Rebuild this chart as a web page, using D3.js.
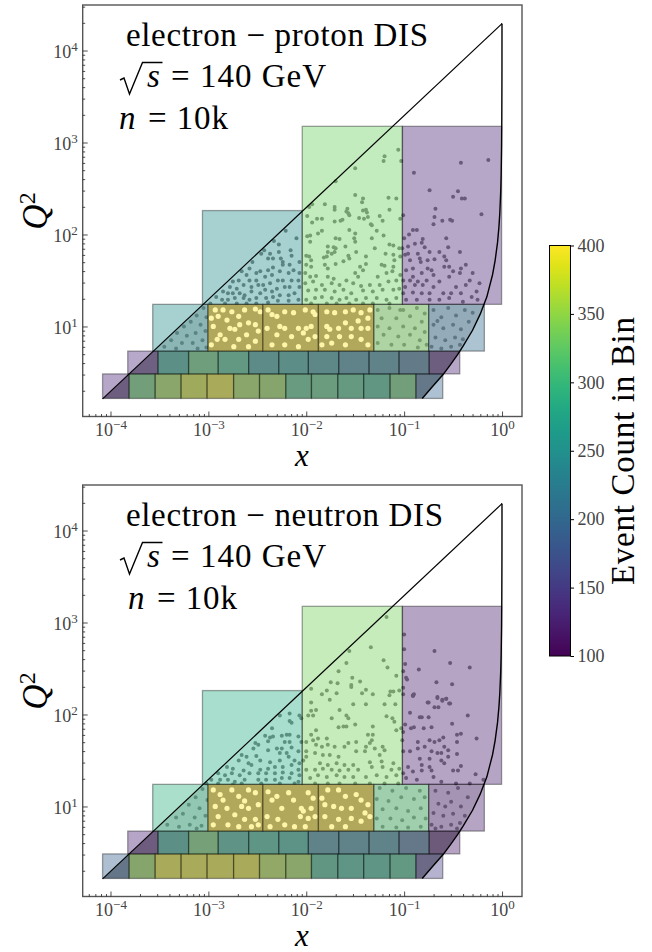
<!DOCTYPE html>
<html>
<head>
<meta charset="utf-8">
<script src="https://cdn.jsdelivr.net/npm/d3@7"></script>
<style>
  html, body { margin: 0; padding: 0; background: #fff; }
  svg { display: block; }
  text { font-family: "Liberation Serif", serif; }
</style>
</head>
<body>
<script>
// bin edges
const q2Edges = [1.65, 3.05, 5.4, 17.4, 182, 1500];
const row1X = [8.3e-5, 1.55e-4, 2.86e-4, 5.26e-4, 9.7e-4, 1.81e-3, 3.33e-3, 6.18e-3, 1.13e-2, 2.1e-2, 3.86e-2, 7.18e-2, 0.132, 0.248];
const row2X = [1.5e-4, 3.06e-4, 6.28e-4, 1.26e-3, 2.58e-3, 5.24e-3, 1.05e-2, 2.15e-2, 4.38e-2, 8.87e-2, 0.18, 0.37];
const row3X = [2.7e-4, 9.9e-4, 3.6e-3, 1.33e-2, 4.9e-2, 0.178, 0.66];
const row4X = [8.7e-4, 9.1e-3, 0.096, 0.99];

// event count per bin, estimated from the colours
const protonRow1 = [130, 320, 350, 375, 385, 350, 345, 305, 310, 300, 290, 320, 195];
const protonRow2 = [135, 270, 315, 295, 255, 265, 245, 230, 225, 205, 130];
const protonRow3 = [245, 400, 400, 400, 335, 205];
const protonRow4 = [245, 330, 130];
const neutronRow1 = [190, 345, 385, 385, 385, 385, 360, 350, 290, 285, 285, 295, 155];
const neutronRow2 = [125, 270, 325, 280, 285, 275, 230, 225, 230, 195, 120];
const neutronRow3 = [290, 400, 400, 400, 315, 122];
const neutronRow4 = [285, 335, 122];

// share of a bin hidden by points too dense to separate
const protonCover = [0.35, 1, 1, 1, 0.3, 0.3];
const neutronCover = [0.3, 1, 1, 1, 0.3, 0.2];

// kinematic limits
const diagX = [8.3e-5, 1];
const diagQ2 = [1.63, 19600];
const edgeX = [0.153, 0.2, 0.25, 0.3, 0.35, 0.4, 0.5, 0.6, 0.7, 0.8, 0.85, 0.9, 0.93, 0.95, 0.97, 0.98, 0.99, 0.995, 0.998, 0.999, 0.9995];
const edgeQ2 = [1.65, 2.3, 3.0, 3.9, 4.9, 6.1, 9.1, 13.7, 21, 36.5, 52, 82, 121, 173, 295, 447, 902, 1815, 4560, 9120, 19600];

// separable events as [log10 x, log10 Q2]
const protonPts = [[-1.06,2.92],[-1.2,2.85],[-1.21,2.8],[-1.03,2.8],[-1.5,2.72],[-1.7,2.58],[-1.5,2.43],[-1.42,2.39],[-1.43,2.35],[-1.16,2.4],[-1.08,2.39],[-1.81,2.33],[-1.71,2.3],[-1.71,2.27],[-1.58,2.28],[-1.59,2.25],[-1.57,2.23],[-1.56,2.21],[-1.39,2.27],[-1.42,2.26],[-1.38,2.24],[-1.37,2.19],[-1.46,2.18],[-1.41,2.17],[-1.15,2.27],[-1.25,2.2],[-1.22,2.15],[-1.04,2.17],[-1.99,2.2],[-1.89,2.17],[-1.84,2.17],[-1.94,2.13],[-1.71,2.14],[-1.65,2.15],[-1.63,2.16],[-1.34,2.11],[-1.97,2.3],[-1.94,2.33],
[-0.14,2.81],[-0.42,2.78],[-0.9,2.67],[-0.74,2.48],[-0.45,2.47],[-0.5,2.41],[-0.41,2.39],[-0.38,2.39],[-0.68,2.28],[-0.21,2.22],[-1.01,2.21],[-0.69,2.19],[-0.53,2.16],[-0.51,2.15],[-0.61,2.15],[-0.7,2.11],
[-2.21,2.04],[-2.1,1.96],[-2.33,1.93],[-2.28,1.89],[-2.16,1.83],[-2.28,1.81],[-2.43,1.83],[-2.46,1.79],[-2.37,1.79],[-2.34,1.74],[-2.39,1.74],[-2.15,1.77],[-2.26,1.74],[-2.24,1.7],[-2.07,1.7],[-2.17,1.67],[-2.55,1.7],[-2.58,1.63],[-2.47,1.6],[-2.39,1.61],[-2.34,1.64],[-2.24,1.67],[-2.66,1.6],[-2.61,1.56],[-2.51,1.58],[-2.75,1.49],[-2.69,1.5],[-2.58,1.5],[-2.51,1.5],[-2.42,1.54],[-2.35,1.56],[-2.27,1.6],[-2.18,1.58],[-2.13,1.61],[-2.07,1.58],[-2.78,1.43],[-2.71,1.41],[-2.64,1.45],[-2.56,1.43],[-2.49,1.45],[-2.44,1.45],[-2.37,1.47],[-2.29,1.5],[-2.24,1.5],[-2.15,1.5],[-2.08,1.5],[-2.85,1.38],[-2.8,1.36],[-2.75,1.36],[-2.68,1.36],[-2.63,1.34],[-2.56,1.38],[-2.47,1.36],[-2.42,1.4],[-2.35,1.38],[-2.3,1.41],[-2.22,1.43],[-2.17,1.43],[-2.07,1.43],[-2.92,1.32],[-2.86,1.29],[-2.8,1.29],[-2.73,1.31],[-2.64,1.31],[-2.58,1.29],[-2.51,1.31],[-2.41,1.31],[-2.34,1.32],[-2.27,1.34],[-2.18,1.34],[-2.12,1.36],[-2.98,1.25],[-2.83,1.25],[-2.71,1.25],[-2.61,1.25],[-2.51,1.25],[-2.39,1.26],[-2.29,1.28],[-2.18,1.28],[-2.08,1.29],
[-1.84,2.04],[-1.88,2.01],[-1.96,1.99],[-1.99,1.98],[-1.96,1.92],[-1.7,1.96],[-1.66,1.95],[-1.56,2.05],[-1.5,2.01],[-1.51,1.96],[-1.5,1.92],[-1.33,1.96],[-1.28,2.04],[-1.21,1.99],[-1.33,2.1],[-1.15,1.89],[-1.11,1.88],[-1.05,1.85],[-1.3,1.85],[-1.6,1.87],[-1.78,1.87],[-1.72,1.86],[-1.7,1.85],[-1.78,1.81],[-1.71,1.81],[-1.74,1.79],[-2,1.77],[-1.97,1.76],[-1.95,1.72],[-1.82,1.75],[-1.79,1.76],[-1.62,1.71],[-1.56,1.74],[-1.57,1.77],[-1.49,1.81],[-1.39,1.76],[-1.19,1.79],[-1.11,1.78],[-1.1,1.72],[-1.04,1.76],[-2,1.67],[-1.95,1.65],[-1.81,1.67],[-1.78,1.63],[-1.7,1.68],[-1.45,1.65],[-1.42,1.61],[-1.39,1.68],[-1.23,1.67],[-1.2,1.66],[-1.11,1.65],[-2.01,1.58],[-1.96,1.54],[-1.9,1.55],[-1.78,1.54],[-1.72,1.52],[-1.59,1.5],[-1.5,1.58],[-1.47,1.54],[-1.27,1.54],[-1.18,1.58],[-1.12,1.6],[-1.04,1.56],[-2.01,1.47],[-1.93,1.49],[-1.84,1.45],[-1.74,1.47],[-1.66,1.45],[-1.52,1.47],[-1.44,1.44],[-1.35,1.45],[-1.25,1.45],[-1.16,1.49],[-1.08,1.5],[-1.98,1.39],[-1.9,1.4],[-1.81,1.4],[-1.71,1.38],[-1.62,1.4],[-1.54,1.36],[-1.42,1.39],[-1.32,1.38],[-1.22,1.4],[-1.11,1.4],[-1.05,1.41],[-2,1.29],[-1.91,1.31],[-1.84,1.32],[-1.74,1.31],[-1.66,1.29],[-1.59,1.31],[-1.49,1.29],[-1.39,1.31],[-1.28,1.31],[-1.18,1.29],[-1.08,1.31],[-1.95,1.25],[-1.79,1.25],[-1.69,1.25],[-1.56,1.25],[-1.42,1.25],[-1.32,1.25],[-1.15,1.25],
[-0.91,2.05],[-0.87,2.05],[-0.95,2],[-1,1.96],[-0.57,1.96],[-0.81,1.95],[-0.82,1.91],[-0.89,1.9],[-0.96,1.87],[-1.02,1.85],[-0.79,1.86],[-0.74,1.81],[-0.64,1.81],[-0.55,1.86],[-0.43,1.81],[-0.86,1.79],[-0.96,1.79],[-0.99,1.78],[-0.94,1.72],[-0.84,1.74],[-0.83,1.7],[-0.76,1.72],[-0.69,1.73],[-0.59,1.76],[-0.57,1.72],[-0.54,1.65],[-0.59,1.65],[-0.37,1.67],[-0.42,1.63],[-0.98,1.61],[-0.91,1.63],[-0.76,1.63],[-0.72,1.61],[-0.5,1.6],[-0.91,1.54],[-0.82,1.58],[-0.7,1.56],[-0.54,1.54],[-0.43,1.58],[-0.3,1.58],[-1.01,1.5],[-0.94,1.5],[-0.86,1.49],[-0.77,1.5],[-0.64,1.49],[-0.33,1.5],[-0.23,1.47],[-0.99,1.43],[-0.89,1.45],[-0.81,1.45],[-0.7,1.43],[-0.47,1.43],[-0.37,1.45],[-0.26,1.38],[-1.01,1.36],[-0.91,1.37],[-0.82,1.36],[-0.74,1.36],[-0.6,1.36],[-0.52,1.36],[-0.42,1.36],[-0.31,1.32],[-0.98,1.29],[-0.87,1.29],[-0.74,1.29],[-0.64,1.29],[-0.54,1.31],[-0.4,1.27],[-0.25,1.29],
[-1.27,1.18],[-1.15,1.2],[-1.01,1.18],[-.87,1.2],[-.79,1.14],[-1.23,1.09],[-1.08,1.09],[-.94,1.11],[-.82,1.05],[-1.27,1],[-1.15,.98],[-1.01,1],[-.89,.98],[-.79,.94],[-1.21,.91],[-1.06,.89],[-.94,.91],[-.84,.85],[-1.27,.82],[-1.13,.8],[-1,.8],[-.86,.77],[-.77,.8],[-1.04,1.18],
[-.7,1.18],[-.62,1.1],[-.55,1.2],[-.47,1.12],[-.38,1.18],[-.3,1.15],[-.7,1.02],[-.6,.98],[-.5,1.02],[-.42,.97],[-.34,1.05],[-.68,.88],[-.58,.85],[-.48,.88],[-.72,.78],[-.62,.76],[-.52,.78],[-.43,.8],[-.4,.86],[-.66,1.06],
[-3.05,1.2],[-3.02,1.1],[-3.12,1.12],[-3.08,1.02],[-3.18,1.05],[-3.25,1],[-3.03,.95],[-3.13,.93],[-3.22,.9],[-3.32,.93],[-3.06,.85],[-3.16,.82],[-3.27,.82],[-3.38,.85],[-3.45,.78],[-3.02,.77],[-3.33,.76],[-3.11,.76]];

const neutronPts = [[-1.18,3.06],[-1.34,2.73],[-1.56,2.69],[-1.21,2.59],[-1.59,2.56],[-1.17,2.51],[-1.67,2.47],[-1.08,2.42],[-1.53,2.4],[-1.45,2.36],[-1.75,2.35],[-1.68,2.34],[-1.54,2.32],[-1.54,2.3],[-1.95,2.28],[-1.79,2.26],[-1.39,2.27],[-1.84,2.22],[-1.69,2.23],[-1.43,2.23],[-1.32,2.22],[-1.14,2.25],[-1.11,2.25],[-1.05,2.26],[-1.15,2.21],[-1.76,2.16],[-1.95,2.13],[-1.52,2.11],[-1.2,2.11],[-1.09,2.11],[-1.39,2.11],
[-1,2.87],[-1,2.71],[-0.69,2.69],[-0.99,2.55],[-0.53,2.56],[-0.33,2.51],[-0.85,2.49],[-1.01,2.47],[-0.98,2.4],[-0.97,2.38],[-0.67,2.35],[-0.51,2.33],[-1.01,2.29],[-1.01,2.22],[-0.9,2.22],[-0.91,2.2],[-0.66,2.19],[-0.57,2.17],[-0.61,2.15],[-0.75,2.13],[-0.53,2.12],
[-2.27,1.99],[-2.17,2.01],[-2.07,1.99],[-2.05,1.96],[-2.17,1.93],[-2.15,1.91],[-2.35,1.85],[-2.42,1.77],[-2.25,1.77],[-2.2,1.78],[-2.17,1.78],[-2.37,1.75],[-2.34,1.76],[-2.08,1.76],[-2.52,1.69],[-2.49,1.67],[-2.39,1.71],[-2.22,1.7],[-2.17,1.7],[-2.05,1.7],[-2.54,1.63],[-2.3,1.63],[-2.25,1.63],[-2.15,1.64],[-2.66,1.56],[-2.61,1.54],[-2.51,1.55],[-2.39,1.61],[-2.27,1.58],[-2.2,1.58],[-2.08,1.6],[-2.69,1.5],[-2.59,1.47],[-2.56,1.45],[-2.47,1.5],[-2.37,1.48],[-2.27,1.5],[-2.18,1.54],[-2.12,1.5],[-2.07,1.47],[-2.81,1.43],[-2.75,1.41],[-2.64,1.39],[-2.47,1.4],[-2.39,1.41],[-2.32,1.43],[-2.24,1.43],[-2.15,1.45],[-2.08,1.4],[-2.9,1.36],[-2.83,1.34],[-2.76,1.36],[-2.68,1.34],[-2.58,1.36],[-2.49,1.36],[-2.41,1.36],[-2.32,1.36],[-2.24,1.37],[-2.15,1.36],[-2.07,1.34],[-2.97,1.29],[-2.88,1.29],[-2.8,1.29],[-2.73,1.27],[-2.63,1.29],[-2.49,1.29],[-2.41,1.29],[-2.32,1.29],[-2.25,1.31],[-2.17,1.31],[-2.08,1.27],[-3.02,1.25],[-2.9,1.25],[-2.75,1.24],[-2.66,1.25],[-2.46,1.25],[-2.27,1.25],[-2.12,1.25],
[-1.9,2.05],[-1.95,2.04],[-1.98,1.99],[-1.93,1.99],[-1.74,1.96],[-1.66,2.05],[-1.59,1.99],[-1.57,1.96],[-1.32,1.87],[-1.18,1.98],[-1.12,1.96],[-1.1,1.92],[-1.08,1.83],[-1.03,1.85],[-1.9,1.83],[-1.95,1.78],[-2,1.7],[-1.93,1.72],[-1.88,1.74],[-1.79,1.74],[-1.5,1.89],[-1.62,1.87],[-1.67,1.86],[-1.59,1.87],[-1.37,1.78],[-1.32,1.78],[-1.33,1.72],[-1.35,1.69],[-1.9,1.67],[-1.84,1.65],[-1.78,1.67],[-1.71,1.65],[-1.57,1.69],[-1.61,1.65],[-1.49,1.7],[-1.39,1.65],[-1.3,1.63],[-1.22,1.65],[-1.2,1.61],[-2,1.6],[-1.91,1.58],[-1.83,1.56],[-1.76,1.56],[-1.67,1.54],[-1.49,1.6],[-1.4,1.6],[-1.25,1.56],[-2.03,1.5],[-2,1.54],[-1.86,1.47],[-1.78,1.45],[-1.69,1.47],[-1.61,1.45],[-1.52,1.45],[-1.35,1.48],[-1.23,1.49],[-1.11,1.47],[-2,1.4],[-1.91,1.4],[-1.83,1.41],[-1.74,1.4],[-1.66,1.39],[-1.57,1.4],[-1.47,1.4],[-1.33,1.43],[-1.22,1.43],[-1.13,1.4],[-1.05,1.41],[-1.96,1.31],[-1.88,1.34],[-1.79,1.32],[-1.69,1.34],[-1.61,1.32],[-1.52,1.32],[-1.39,1.32],[-1.28,1.34],[-1.18,1.32],[-1.08,1.34],[-1.91,1.25],[-1.78,1.25],[-1.66,1.25],[-1.5,1.25],[-1.35,1.25],[-1.2,1.25],[-1.06,1.25],
[-0.91,2.21],[-0.76,2.13],[-0.66,2.18],[-0.61,2.16],[-0.57,2.17],[-0.54,2.12],[-0.69,2.08],[-0.65,2.08],[-0.94,2.02],[-0.84,1.97],[-0.82,1.97],[-0.75,1.97],[-0.35,1.99],[-0.51,1.9],[-0.99,1.89],[-1.01,1.81],[-0.93,1.85],[-0.9,1.86],[-0.8,1.85],[-0.72,1.86],[-0.46,1.78],[-0.42,1.79],[-1.02,1.72],[-0.86,1.7],[-0.74,1.72],[-0.69,1.7],[-0.64,1.72],[-0.6,1.75],[-0.59,1.65],[-0.46,1.7],[-0.26,1.74],[-0.86,1.63],[-0.79,1.65],[-0.72,1.6],[-0.66,1.58],[-0.62,1.58],[-0.55,1.61],[-0.55,1.54],[-0.94,1.6],[-1.01,1.6],[-0.46,1.57],[-0.84,1.52],[-0.74,1.52],[-0.62,1.5],[-0.96,1.43],[-0.82,1.45],[-0.74,1.43],[-0.59,1.47],[-0.42,1.44],[-1.01,1.36],[-0.91,1.38],[-0.82,1.39],[-0.72,1.39],[-0.5,1.39],[-0.45,1.39],[-0.27,1.35],[-0.98,1.31],[-0.87,1.29],[-0.7,1.32],[-0.62,1.27],[-0.47,1.25],[-0.33,1.25],[-0.19,1.29],
[-1.25,1.2],[-1.12,1.17],[-.98,1.2],[-.84,1.17],[-1.28,1.08],[-1.16,1.06],[-1.03,1.1],[-.9,1.08],[-.79,1.1],[-1.22,.97],[-1.08,.98],[-.96,.95],[-.83,.98],[-1.28,.87],[-1.14,.87],[-1.02,.85],[-.9,.88],[-.78,.87],[-1.22,.78],[-1.08,.77],[-.96,.77],[-.83,.78],
[-.68,1.17],[-.55,1.15],[-.45,1.2],[-.35,1.1],[-.65,1.03],[-.52,1.05],[-.42,1],[-.7,.93],[-.6,.9],[-.5,.92],[-.38,.9],[-.72,.8],[-.62,.78],[-.52,.8],[-.43,.82],[-.68,.76],[-.46,.76],[-.58,1],
[-3.06,1.19],[-3.01,1.07],[-3.13,1.1],[-3.09,.98],[-3.2,1.02],[-3.03,.9],[-3.14,.88],[-3.26,.92],[-3.33,.88],[-3.07,.79],[-3.19,.8],[-3.3,.78],[-3.42,.8],[-3.12,.76]];

// holes left open between points in the fullest bins, as [log10 x, log10 Q2]
const protonGaps = [[-2.93,1.18],[-2.85,1.18],[-2.76,1.16],[-2.63,1.18],[-2.52,1.19],[-2.47,1.16],[-2.97,1.09],[-2.9,1.11],[-2.81,1.07],[-2.69,1.11],[-2.68,1.02],[-2.59,1.04],[-2.52,1.02],[-2.95,1],[-2.78,.98],[-2.88,.91],[-2.91,.86],[-2.73,.97],[-2.61,.91],[-2.49,.95],[-2.83,.86],[-2.69,.86],[-2.52,.84],[-2.97,.8],[-2.74,.78],[-2.59,.78],
[-2.39,1.18],[-2.3,1.11],[-2.35,1.13],[-2.22,1.16],[-2.13,1.15],[-2.01,1.18],[-1.93,1.16],[-1.91,1.13],[-2.27,1],[-2.22,.98],[-2.08,.98],[-2,.98],[-1.95,1],[-2.03,.93],[-2.3,.91],[-2.4,.98],[-2.15,.89],[-1.98,.86],[-2.35,.8],[-2.22,.8],[-2.08,.78],[-1.91,.89],
[-1.79,1.16],[-1.71,1.15],[-1.6,1.16],[-1.52,1.18],[-1.44,1.15],[-1.37,1.09],[-1.47,1.06],[-1.35,1.18],[-1.79,1],[-1.76,.97],[-1.67,.98],[-1.6,1.04],[-1.54,.98],[-1.44,.98],[-1.37,.98],[-1.66,.89],[-1.54,.89],[-1.79,.89],[-1.74,.82],[-1.6,.8],[-1.44,.86],[-1.37,.8],[-1.84,.8]];
const neutronGaps = [[-2.95,1.18],[-2.88,1.13],[-2.76,1.18],[-2.69,1.11],[-2.59,1.18],[-2.52,1.15],[-2.49,1.02],[-2.93,1],[-2.81,.98],[-2.66,1],[-2.59,.98],[-2.9,.89],[-2.73,.91],[-2.63,.86],[-2.52,.86],[-2.95,.8],[-2.8,.8],[-2.69,.78],[-2.56,.78],[-2.49,.8],[-2.85,1.07],[-2.63,1.06],
[-2.39,1.16],[-2.3,1.11],[-2.35,1.07],[-2.18,1.15],[-2.13,1.07],[-1.98,1.15],[-1.93,1.09],[-2.25,.98],[-2.05,.98],[-2.03,.95],[-1.95,.98],[-2.4,.89],[-2.29,.86],[-2.06,.89],[-1.98,.87],[-1.91,.89],[-2.22,.8],[-2.37,.78],[-2.12,.78],[-2.01,.78],
[-1.78,1.18],[-1.67,1.18],[-1.6,1.11],[-1.49,1.13],[-1.44,1.07],[-1.37,1.02],[-1.81,1.02],[-1.72,1],[-1.64,.98],[-1.54,.98],[-1.4,.93],[-1.81,.89],[-1.67,.86],[-1.54,.87],[-1.35,.89],[-1.44,.84],[-1.74,.78],[-1.6,.78],[-1.84,1.09]];

const decadesX = [-4, -3, -2, -1, 0];
const decadesY = [1, 2, 3, 4];
const barTicks = [100, 150, 200, 250, 300, 350, 400];

const W = 652, H = 952;
const panelW = [82.7, 522];
const panelH = 411.5;
const ptColor = "#7f7f7f";
const inkColor = "#444";

const color = d3.scaleSequential(d3.interpolateViridis).domain([100, 400]);
const svg = d3.select("body").append("svg").attr("width", W).attr("height", H);
const defs = svg.append("defs");

function rowBins(edges, counts, lo, hi) {
    return counts.map((c, i) => ({x0: edges[i], x1: edges[i + 1], q0: lo, q1: hi, count: c}));
}

function drawPanel(top, id, title, titleX, titleW, nX, rows, cover, pts, gaps) {
    const x = d3.scaleLog().domain([5.2e-5, 1.6]).range(panelW);
    const y = d3.scaleLog().domain([31260, 1.05]).range([top, top + panelH]);
    const g = svg.append("g");

    // kinematic region for the dense underlay
    const kin = [];
    kin.push([x(diagX[0]), y(diagQ2[0])], [x(diagX[1]), y(diagQ2[1])]);
    edgeX.slice().reverse().forEach((v, i) => kin.push([x(v), y(edgeQ2[edgeX.length - 1 - i])]));
    defs.append("clipPath").attr("id", "kin" + id).append("polygon").attr("points", kin.join(" "));

    const bins = [].concat(
        rowBins(row1X, rows[0], q2Edges[0], q2Edges[1]),
        rowBins(row2X, rows[1], q2Edges[1], q2Edges[2]),
        rowBins(row3X, rows[2], q2Edges[2], q2Edges[3]),
        [{x0: row4X[0], x1: row4X[1], q0: q2Edges[3], q1: q2Edges[4], count: rows[3][0]},
         {x0: row4X[1], x1: row4X[2], q0: q2Edges[3], q1: q2Edges[5], count: rows[3][1]},
         {x0: row4X[2], x1: row4X[3], q0: q2Edges[3], q1: q2Edges[5], count: rows[3][2]}]
    );

    // rows 1 and 2 are almost solid with points, row 3 partly
    const under = g.append("g").attr("clip-path", "url(#kin" + id + ")");
    under.append("rect")
        .attr("x", x(row1X[0])).attr("width", x(1) - x(row1X[0]))
        .attr("y", y(q2Edges[2])).attr("height", y(q2Edges[0]) - y(q2Edges[2]))
        .attr("fill", ptColor).attr("opacity", 0.95);
    under.selectAll("rect.c").data(cover).join("rect").attr("class", "c")
        .attr("x", (d, i) => x(row3X[i])).attr("width", (d, i) => x(row3X[i + 1]) - x(row3X[i]))
        .attr("y", y(q2Edges[3])).attr("height", y(q2Edges[2]) - y(q2Edges[3]))
        .attr("fill", ptColor).attr("opacity", d => d);
    under.selectAll("circle").data(gaps).join("circle")
        .attr("cx", d => x(Math.pow(10, d[0])))
        .attr("cy", d => y(Math.pow(10, d[1])))
        .attr("r", 2.6).attr("fill", "#fff");

    g.append("g").selectAll("circle").data(pts).join("circle")
        .attr("cx", d => x(Math.pow(10, d[0])))
        .attr("cy", d => y(Math.pow(10, d[1])))
        .attr("r", 2).attr("fill", ptColor);

    g.append("g").selectAll("rect").data(bins).join("rect")
        .attr("x", d => x(d.x0)).attr("width", d => x(d.x1) - x(d.x0))
        .attr("y", d => y(d.q1)).attr("height", d => y(d.q0) - y(d.q1))
        .attr("fill", d => color(d.count)).attr("fill-opacity", 0.4)
        .attr("stroke", "#000").attr("stroke-opacity", 0.36).attr("stroke-width", 1.3);

    const line = d3.line().x(d => x(d[0])).y(d => y(d[1]));
    g.append("path").attr("d", line(d3.zip(diagX, diagQ2)))
        .attr("fill", "none").attr("stroke", "#000").attr("stroke-width", 1.2);
    g.append("path").attr("d", line(d3.zip(edgeX, edgeQ2).concat([[1, 19600]])))
        .attr("fill", "none").attr("stroke", "#000").attr("stroke-width", 1.4);

    // frame
    g.append("rect").attr("x", panelW[0]).attr("y", top)
        .attr("width", panelW[1] - panelW[0]).attr("height", panelH)
        .attr("fill", "none").attr("stroke", "#555").attr("stroke-width", 1.4);

    // axes
    const minor = (dec, lo, hi) => dec.flatMap(d => d3.range(2, 10).map(m => m * Math.pow(10, d))).filter(v => v > lo && v < hi);
    const xMinor = minor([-5, -4, -3, -2, -1, 0], 5.2e-5, 1.6);
    const yMinor = minor([0, 1, 2, 3, 4], 1.05, 31260);

    const xa = g.append("g").attr("transform", "translate(0," + (top + panelH) + ")");
    xa.append("g").call(d3.axisBottom(x).tickValues(xMinor).tickSize(-2.5).tickFormat(""));
    const xMaj = xa.append("g").call(d3.axisBottom(x).tickValues(decadesX.map(d => Math.pow(10, d))).tickSize(-5).tickFormat(""));
    const ya = g.append("g").attr("transform", "translate(" + panelW[0] + ",0)");
    ya.append("g").call(d3.axisLeft(y).tickValues(yMinor).tickSize(-2.5).tickFormat(""));
    const yMaj = ya.append("g").call(d3.axisLeft(y).tickValues(decadesY.map(d => Math.pow(10, d))).tickSize(-5).tickFormat(""));
    g.selectAll(".domain").remove();
    g.selectAll(".tick line").attr("stroke", "#222").attr("stroke-width", 0.8);
    g.selectAll(".tick text").remove();

    xMaj.selectAll(".tick").each(function (d, i) {
        const t = d3.select(this).append("text").attr("y", 19).attr("fill", inkColor)
            .attr("text-anchor", "middle").attr("font-size", 18);
        t.append("tspan").text("10");
        t.append("tspan").attr("dy", -7).attr("font-size", 13).text(decadesX[i] < 0 ? "\u2212" + (-decadesX[i]) : decadesX[i]);
    });
    yMaj.selectAll(".tick").each(function (d, i) {
        const t = d3.select(this).append("text").attr("x", -5).attr("y", 7).attr("fill", inkColor)
            .attr("text-anchor", "end").attr("font-size", 18);
        t.append("tspan").text("10");
        t.append("tspan").attr("dy", -7).attr("font-size", 13).text(decadesY[i]);
    });

    // axis titles
    g.append("text").attr("x", 302).attr("y", top + 461).attr("text-anchor", "middle")
        .attr("font-size", 31).attr("font-style", "italic").text("x");
    const qt = g.append("text").attr("transform", "translate(47," + (top + 206) + ") rotate(-90)")
        .attr("text-anchor", "middle").attr("font-size", 35);
    qt.append("tspan").attr("font-style", "italic").text("Q");
    qt.append("tspan").attr("dy", -12).attr("font-size", 24).text("2");

    // annotations
    g.append("text").attr("x", titleX).attr("y", top + 41).attr("font-size", 33)
        .attr("textLength", titleW).attr("lengthAdjust", "spacing").text(title);
    g.append("path").attr("d", "M120," + (top + 75) + "l4,-2l5.5,16l13,-31.5h20")
        .attr("fill", "none").attr("stroke", "#000").attr("stroke-width", 1.4);
    g.append("text").attr("x", 147).attr("y", top + 82).attr("font-size", 33)
        .attr("font-style", "italic").text("s");
    g.append("text").attr("x", 171).attr("y", top + 82).attr("font-size", 33)
        .attr("textLength", 155).attr("lengthAdjust", "spacing").text("= 140 GeV");
    g.append("text").attr("x", nX).attr("y", top + 124).attr("font-size", 33)
        .attr("font-style", "italic").text("n");
    g.append("text").attr("x", nX + 29).attr("y", top + 124).attr("font-size", 33)
        .attr("textLength", 80).attr("lengthAdjust", "spacing").text("= 10k");
}

drawPanel(5, "p", "electron \u2212 proton DIS", 126, 302, 119,
    [protonRow1, protonRow2, protonRow3, protonRow4], protonCover, protonPts, protonGaps);
drawPanel(485, "n", "electron \u2212 neutron DIS", 126, 317, 128,
    [neutronRow1, neutronRow2, neutronRow3, neutronRow4], neutronCover, neutronPts, neutronGaps);

// colour bar
const barScale = d3.scaleLinear().domain([100, 400]).range([656, 245.5]);
const grad = defs.append("linearGradient").attr("id", "viridis")
    .attr("x1", 0).attr("y1", 1).attr("x2", 0).attr("y2", 0);
d3.range(0, 1.001, 0.05).forEach(t => grad.append("stop")
    .attr("offset", t).attr("stop-color", d3.interpolateViridis(t)));
const bar = svg.append("g");
bar.append("rect").attr("x", 549.5).attr("y", 245.5).attr("width", 21).attr("height", 410.5)
    .attr("fill", "url(#viridis)").attr("stroke", "#000").attr("stroke-width", 1);
const barAxis = bar.append("g").attr("transform", "translate(570.5,0)")
    .call(d3.axisRight(barScale).tickValues(barTicks).tickSize(3.5).tickPadding(3.5));
barAxis.select(".domain").remove();
barAxis.selectAll("text").attr("font-size", 18).attr("fill", inkColor)
    .attr("font-family", "Liberation Serif");
bar.append("text").attr("transform", "translate(634,585) rotate(-90)")
    .attr("font-size", 33).attr("textLength", 268).attr("lengthAdjust", "spacing")
    .text("Event Count in Bin");
</script>
</body>
</html>
